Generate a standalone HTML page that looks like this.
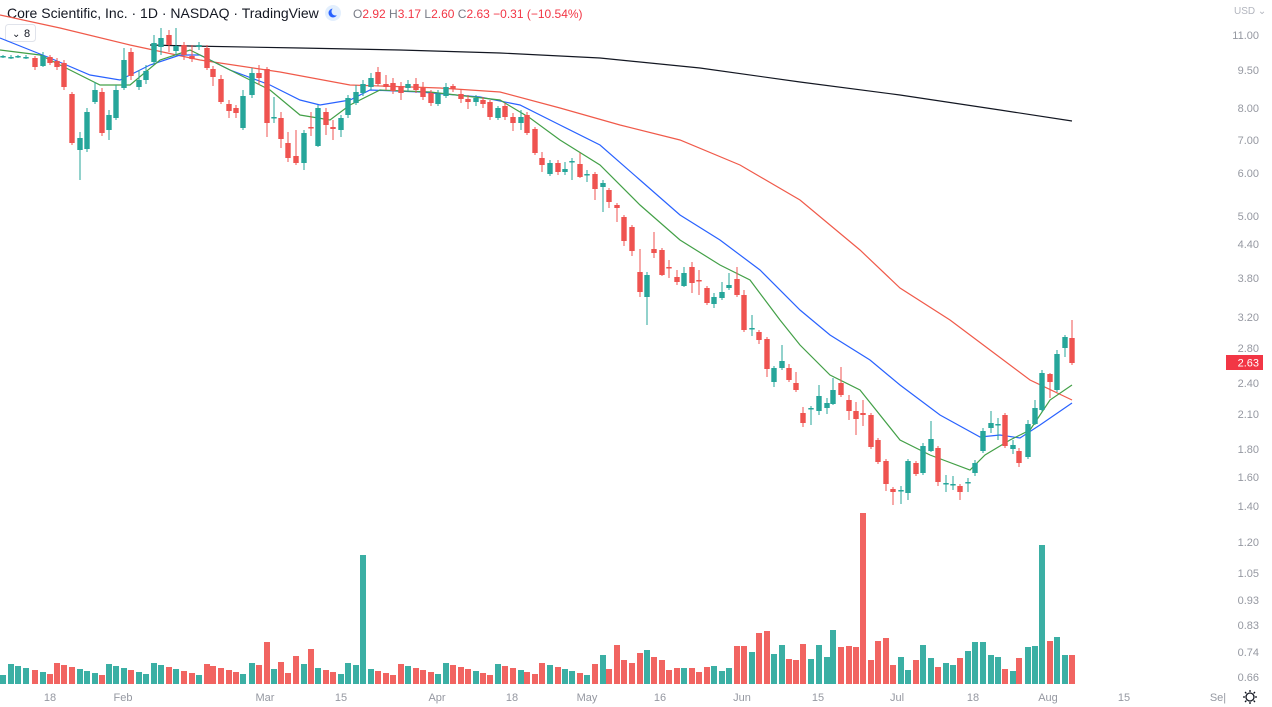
<!DOCTYPE html>
<html><head><meta charset="utf-8"><style>
html,body{margin:0;padding:0;background:#fff;width:1272px;height:707px;overflow:hidden;font-family:"Liberation Sans",sans-serif}
svg{position:absolute;left:0;top:0}
</style></head><body>
<svg id="s" width="1272" height="707" xmlns="http://www.w3.org/2000/svg">
<g font-family="Liberation Sans, sans-serif">
<text x="7" y="18" font-size="14" fill="#131722">Core Scientific, Inc. · 1D · NASDAQ · TradingView</text>
<circle cx="333" cy="13" r="8" fill="#e3effd"/><circle cx="333" cy="13" r="4.5" fill="#2962ff"/><circle cx="335.5" cy="11.5" r="4" fill="#e3effd"/>
<text x="353" y="18" font-size="12" fill="#787b86">O<tspan fill="#f23645">2.92</tspan> H<tspan fill="#f23645">3.17</tspan> L<tspan fill="#f23645">2.60</tspan> C<tspan fill="#f23645">2.63</tspan> <tspan fill="#f23645">−0.31 (−10.54%)</tspan></text>
<rect x="5.5" y="24.5" width="30" height="17" rx="3" fill="#fff" stroke="#e0e3eb"/>
<text x="12" y="37" font-size="10" fill="#131722">⌄</text><text x="24" y="37" font-size="11" fill="#131722">8</text>
<text x="1234" y="14" font-size="10" fill="#b2b5be">USD ⌄</text>
</g>
<g id="axis" font-size="11" fill="#9598a1" text-anchor="end"></g>
<g id="xl" font-size="11" fill="#9598a1" text-anchor="middle"></g>
<g id="vol"></g>
<g id="ma" fill="none" stroke-width="1.2"></g>
<g id="cdl"></g>
<rect x="1226" y="355" width="37" height="15" fill="#f23645"/>
<text x="1259" y="366.5" font-size="11" fill="#fff" text-anchor="end" font-family="Liberation Sans, sans-serif">2.63</text>
<g transform="translate(1250,697)" fill="none" stroke="#131722" stroke-width="1.3"><circle r="4"/><path d="M0-7V-5M0 5V7M-7 0H-5M5 0H7M-5-5L-3.6-3.6M3.6 3.6L5 5M-5 5L-3.6 3.6M3.6-3.6L5-5"/></g>
</svg>
<script>
var NS="http://www.w3.org/2000/svg";
function el(p,t,a,txt){var e=document.createElementNS(NS,t);for(var k in a)e.setAttribute(k,a[k]);if(txt)e.textContent=txt;document.getElementById(p).appendChild(e);return e;}
[["11.00",35],["9.50",70],["8.00",108],["7.00",140],["6.00",173],["5.00",216],["4.40",244],["3.80",278],["3.20",317],["2.80",348],["2.40",383],["2.10",414],["1.80",449],["1.60",477],["1.40",506],["1.20",542],["1.05",573],["0.93",600],["0.83",625],["0.74",652],["0.66",677]].forEach(function(a){el("axis","text",{x:1259,y:a[1]+4},a[0]);});
[["18",50],["Feb",123],["Mar",265],["15",341],["Apr",437],["18",512],["May",587],["16",660],["Jun",742],["15",818],["Jul",897],["18",973],["Aug",1048],["15",1124],["Se|",1218]].forEach(function(a){el("xl","text",{x:a[1],y:701},a[0]);});
var C=[[3,57,56,55,58],[11,57,57,55,59],[18,57,56,55,58],[26,57,57,55,59],[35,58,67,56,70],[43,66,56,52,67],[50,57,63,55,65],[57,61,67,58,70],[64,63,87,60,90],[72,94,143,92,145],[80,150,138,132,180],[87,149,112,108,152],[95,102,90,82,104],[102,92,133,88,136],[109,130,115,110,140],[116,118,90,85,120],[124,88,60,48,90],[131,52,76,48,80],[139,87,80,70,90],[146,80,71,65,84],[154,62,43,35,64],[161,47,38,28,55],[169,35,45,30,52],[176,51,46,28,55],[184,45,55,42,60],[192,56,59,45,62],[199,47,45,42,50],[207,48,68,45,70],[213,69,77,66,86],[221,79,102,75,104],[229,104,111,100,118],[236,108,113,105,118],[243,128,96,90,130],[252,95,73,68,98],[259,73,78,65,85],[267,69,123,67,137],[274,118,117,97,123],[281,118,139,112,148],[288,143,158,132,162],[296,156,163,130,165],[304,163,133,130,170],[311,127,128,112,136],[318,146,108,105,147],[326,112,125,108,135],[333,127,129,120,140],[341,130,118,115,137],[348,115,98,95,118],[356,103,92,85,105],[363,93,84,80,96],[371,87,78,73,90],[378,72,84,67,86],[386,84,87,75,90],[393,83,91,78,94],[401,86,93,82,100],[408,88,84,80,91],[416,84,90,78,93],[423,88,97,82,100],[431,93,103,90,106],[438,104,94,90,106],[446,96,87,83,98],[453,86,89,84,92],[461,94,99,90,103],[468,99,102,95,109],[476,102,98,95,106],[483,100,104,97,108],[490,102,117,100,120],[498,118,108,106,120],[505,106,117,103,120],[513,117,123,113,131],[521,123,117,110,130],[527,115,133,112,135],[535,129,153,127,155],[542,158,165,152,172],[550,174,163,160,176],[558,163,172,160,175],[565,172,169,162,175],[572,162,161,158,180],[580,164,177,153,178],[587,175,174,170,182],[595,174,189,172,200],[603,187,183,180,212],[609,190,202,188,208],[617,205,208,203,222],[624,217,241,215,246],[632,227,251,225,256],[640,272,292,249,297],[647,297,275,272,325],[654,249,253,232,258],[662,250,275,248,276],[669,267,268,260,278],[677,277,282,270,285],[684,286,273,267,287],[692,267,283,262,293],[699,280,281,270,295],[707,288,303,286,305],[714,304,297,293,308],[722,298,292,282,300],[729,288,285,273,290],[737,279,295,267,297],[744,295,330,290,332],[752,329,328,315,336],[759,332,340,330,344],[767,339,369,337,377],[774,382,368,366,387],[782,368,361,345,370],[789,368,380,364,382],[796,383,390,372,392],[803,413,423,407,427],[811,409,408,406,425],[819,411,396,385,415],[827,408,403,398,414],[833,404,390,378,405],[841,383,395,367,397],[849,400,411,395,420],[856,411,419,402,435],[863,413,415,400,426],[871,415,447,413,449],[878,440,462,438,464],[886,461,484,459,491],[893,489,492,487,505],[901,490,490,486,504],[908,493,461,459,500],[916,463,474,461,476],[923,473,446,443,475],[931,451,439,421,452],[938,448,482,446,486],[946,483,483,475,492],[953,484,484,476,490],[960,486,492,484,500],[968,483,482,478,492],[975,473,463,460,476],[983,451,431,428,453],[991,428,423,411,433],[998,424,424,418,440],[1005,415,446,413,448],[1013,449,445,440,454],[1019,451,463,448,467],[1028,457,424,420,459],[1035,424,408,400,425],[1042,410,373,370,412],[1050,374,382,373,398],[1057,390,354,350,392],[1065,348,337,335,357],[1072,338,363,320,365]];
var VL=[29,15,39,24,21,31,34,27,24,14,16,16,16,12,17,18,13,16,38,38,32,51,53,30,39,25,24,40,25,39,27,54,37,38,37,37,24,43,46,19,27,14,24,39,26,17,21,19,26,33,42,42,29,27,15,13,26,37,38,39,43,47,29,29];
var OV={265:42,280:22,295:28,310:35,362:129,412:22,863:171,1042:139};
var G="#26a69a",R="#ef5350",vi=0;
C.forEach(function(c,i){
 var x=c[0],o=c[1],cl=c[2],h=c[3],l=c[4],up=cl<=o,col=up?G:R;
 el("cdl","line",{x1:x,x2:x,y1:h,y2:l,stroke:col,"stroke-width":1});
 var t=Math.min(o,cl),b=Math.max(o,cl);if(b-t<1.5){b=t+1.5;}
 el("cdl","rect",{x:x-2.7,y:t,width:5.4,height:b-t,fill:col});
 var vh;
 if(x>=600){vh=VL[vi++]||20;}else{vh=9+((i*37)%13);}
 for(var k in OV){if(Math.abs(k-x)<3.5)vh=OV[k];}
 el("vol","rect",{x:x-3,y:684-vh,width:6,height:vh,fill:col,opacity:0.9});
});
function pl(pts,col){el("ma","polyline",{points:pts.map(function(p){return p.join(",")}).join(" "),stroke:col});}
pl([[150,45],[190,46],[300,48],[400,50],[500,53],[600,58],[700,68],[800,82],[900,95],[1000,110],[1072,121]],"#131722");
pl([[0,15],[60,28],[130,45],[200,60],[280,72],[350,85],[440,88],[500,92],[560,108],[620,125],[680,140],[740,165],[800,200],[860,250],[900,288],[950,320],[990,350],[1030,380],[1072,400]],"#f05a4a");
pl([[0,38],[50,58],[90,75],[120,80],[150,65],[180,55],[200,55],[230,70],[270,85],[300,100],[320,105],[350,100],[370,90],[420,92],[480,97],[520,105],[560,125],[600,145],[640,180],[680,215],[720,240],[760,270],[800,310],[830,335],[870,360],[900,385],[940,415],[980,437],[1000,435],[1020,438],[1040,425],[1072,403]],"#2962ff");
pl([[0,50],[40,55],[70,70],[100,85],[130,85],[160,60],[190,50],[210,60],[240,75],[270,90],[300,115],[330,120],[350,105],[380,90],[430,92],[500,100],[530,118],[560,140],[600,165],[640,205],[680,240],[720,265],[750,280],[780,320],[800,345],[830,375],[860,390],[900,440],[930,455],[970,470],[985,455],[1010,440],[1030,430],[1050,400],[1072,385]],"#43a047");
</script>
</body></html>
